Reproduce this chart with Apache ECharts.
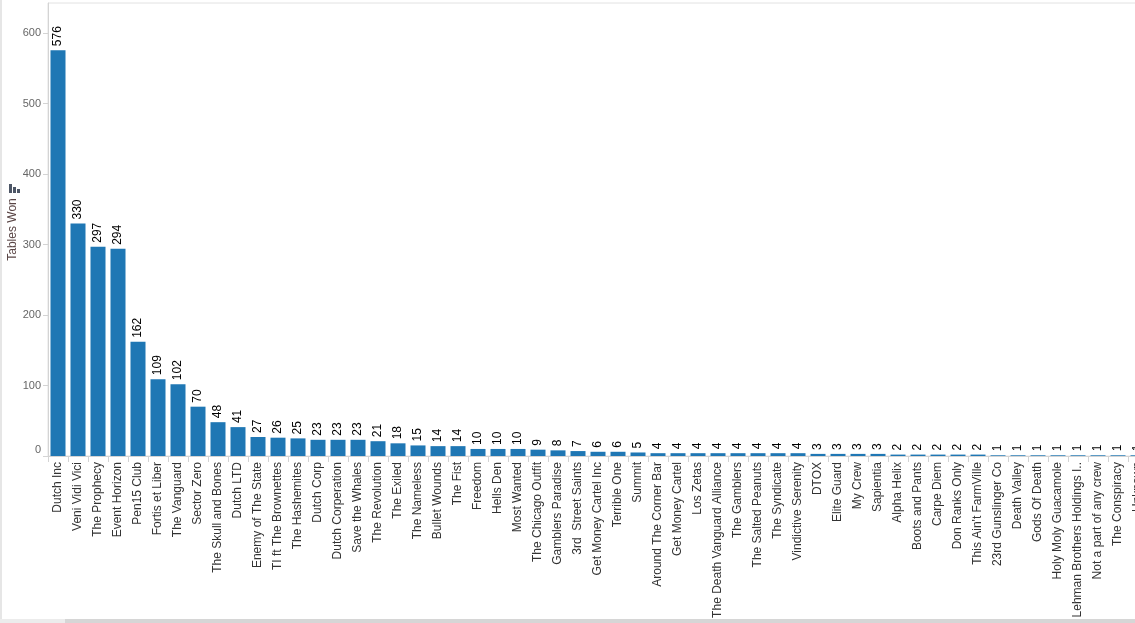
<!DOCTYPE html>
<html>
<head>
<meta charset="utf-8">
<script src="https://cdn.jsdelivr.net/npm/echarts@6/dist/echarts.min.js"></script>
<style>
html,body{margin:0;padding:0;background:#fff;}
#chart{width:1135px;height:623px;}
</style>
</head>
<body>
<div id="chart"></div>
<script>
const categories = [
  "Dutch Inc","Veni Vidi Vici","The Prophecy","Event Horizon","Pen15 Club","Fortis et Liber",
  "The Vanguard","Sector Zero","The Skull and Bones","Dutch LTD","Enemy of The State",
  "TI ft The Brownettes","The Hashemites","Dutch Corp","Dutch Corperation","Save the Whales",
  "The Revolution","The Exiled","The Nameless","Bullet Wounds","The Fist","Freedom","Hells Den",
  "Most Wanted","The Chicago Outfit","Gamblers Paradise","3rd  Street Saints","Get Money Cartel Inc",
  "Terrible One","Summit","Around The Corner Bar","Get Money Cartel","Los Zetas",
  "The Death Vanguard Alliance","The Gamblers","The Salted Peanuts","The Syndicate",
  "Vindictive Serenity","DTOX","Elite Guard","My Crew","Sapientia","Alpha Helix","Boots and Pants",
  "Carpe Diem","Don Ranks Only","This Ain't FarmVille","23rd Gunslinger Co","Death Valley",
  "Gods Of Death","Holy Moly Guacamole","Lehman Brothers Holdings I..","Not a part of any crew",
  "The Conspiracy","Unknown"
];
const tablesWon = [
  576,330,297,294,162,109,102,70,48,41,27,26,25,23,23,23,21,18,15,14,14,10,10,10,9,8,7,6,6,5,
  4,4,4,4,4,4,4,4,3,3,3,3,2,2,2,2,2,1,1,1,1,1,1,1,1
];
const yTicks = [0,100,200,300,400,500,600];

const chart = echarts.init(document.getElementById('chart'));
const font = 'Arial, "Liberation Sans", sans-serif';
chart.setOption({
  animation: false,
  textStyle: { fontFamily: font },
  grid: { left: 48, top: 3, bottom: 167, width: 1100, containLabel: false, outerBoundsMode: 'none',
          show: true, borderColor: '#e2e2e2', borderWidth: 1, backgroundColor: 'transparent' },
  xAxis: {
    type: 'category',
    data: categories,
    axisLine: { lineStyle: { color: '#d4d4d4' } },
    axisTick: { show: true, length: 6, lineStyle: { color: '#d4d4d4' } },
    axisLabel: { rotate: 90, interval: 0, fontSize: 12, color: '#333', margin: 6, fontFamily: font }
  },
  yAxis: {
    type: 'value',
    min: 0, max: 643, interval: 100,
    name: 'Tables Won',
    nameLocation: 'middle',
    nameRotate: 90,
    nameGap: 29,
    nameMoveOverlap: false,
    nameTextStyle: { fontSize: 12, color: '#5a4646', fontFamily: font },
    splitLine: { show: false },
    axisLine: { show: true, lineStyle: { color: '#d4d4d4' } },
    axisTick: { show: true, length: 5, customValues: yTicks, lineStyle: { color: '#d4d4d4' } },
    axisLabel: {
      customValues: yTicks,
      fontSize: 11, color: '#666', margin: 7, fontFamily: font,
      formatter: v => v === 0 ? '{z|0}' : String(v),
      rich: { z: { fontSize: 11, color: '#666', padding: [0,0,12,0], fontFamily: font } }
    }
  },
  series: [{
    type: 'bar',
    data: tablesWon,
    barWidth: 15,
    itemStyle: { color: '#1f77b4' },
    label: {
      show: true, position: 'top', rotate: 90, align: 'left', verticalAlign: 'middle',
      distance: 4, fontSize: 12, color: '#000', fontFamily: font
    }
  }],
  graphic: [
    { type: 'rect', shape: { x: 0, y: 0, width: 2, height: 623 }, style: { fill: '#e6e6e6' }, silent: true },
    { type: 'rect', shape: { x: 0, y: 619, width: 1135, height: 4 }, style: { fill: '#ececec' }, silent: true },
    { type: 'rect', shape: { x: 65, y: 619, width: 1070, height: 4 }, style: { fill: '#d6d6d6' }, silent: true },
    { type: 'rect', shape: { x: 9, y: 184, width: 3, height: 9 }, style: { fill: '#4d5666' }, silent: true },
    { type: 'rect', shape: { x: 13, y: 187, width: 3, height: 6 }, style: { fill: '#4d5666' }, silent: true },
    { type: 'rect', shape: { x: 17, y: 189, width: 3, height: 4 }, style: { fill: '#4d5666' }, silent: true }
  ]
});
</script>
</body>
</html>
